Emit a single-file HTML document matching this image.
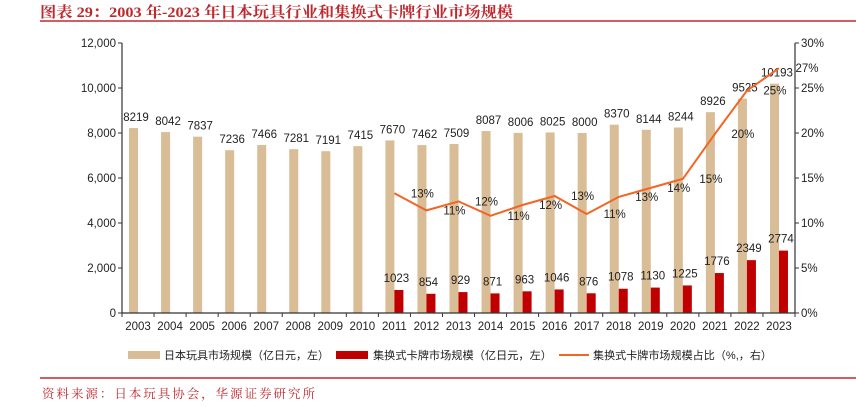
<!DOCTYPE html>
<html><head><meta charset="utf-8"><style>
body{margin:0;background:#fff;}
svg{display:block;font-family:"Liberation Sans","Noto Sans CJK SC",sans-serif;}
</style></head><body>
<svg id="chart" width="856" height="407" viewBox="0 0 856 407" xmlns="http://www.w3.org/2000/svg">
<text x="40" y="17" font-size="15" font-weight="bold" fill="#c0282e" textLength="473" lengthAdjust="spacingAndGlyphs" font-family="'Liberation Serif','Noto Serif CJK SC',serif">图表 29：2003 年-2023 年日本玩具行业和集换式卡牌行业市场规模</text>
<line x1="40" y1="21" x2="856" y2="21" stroke="#c0282e" stroke-width="1.5"/>
<g id="plot"></g>
<g font-size="11" fill="#222">
<rect x="128" y="351" width="32" height="8" fill="#d9bd96"/>
<text x="164" y="359" textLength="165" lengthAdjust="spacingAndGlyphs">日本玩具市场规模（亿日元，左）</text>
<rect x="336" y="351" width="32" height="8" fill="#c00000"/>
<text x="373" y="359" textLength="179" lengthAdjust="spacingAndGlyphs">集换式卡牌市场规模（亿日元，左）</text>
<line x1="559" y1="355" x2="589" y2="355" stroke="#f26522" stroke-width="2"/>
<text x="593" y="359" textLength="179" lengthAdjust="spacingAndGlyphs">集换式卡牌市场规模占比（%,，右）</text>
</g>
<line x1="40" y1="378" x2="856" y2="378" stroke="#c0282e" stroke-width="1.5"/>
<text x="42" y="398" font-size="12.5" fill="#c0282e" textLength="273" lengthAdjust="spacing" font-family="'Liberation Serif','Noto Serif CJK SC',serif">资料来源：日本玩具协会，华源证券研究所</text>
</svg>
<script>
const years = ['2003','2004','2005','2006','2007','2008','2009','2010','2011','2012','2013','2014','2015','2016','2017','2018','2019','2020','2021','2022','2023'];
const toyMarket = [8219,8042,7837,7236,7466,7281,7191,7415,7670,7462,7509,8087,8006,8025,8000,8370,8144,8244,8926,9525,10193];
const cardMarket = [null,null,null,null,null,null,null,null,1023,854,929,871,963,1046,876,1078,1130,1225,1776,2349,2774];
const cardShare = [null,null,null,null,null,null,null,null,13.3,11.4,12.4,10.8,12.0,13.0,11.0,12.9,13.9,14.9,19.9,24.7,27.2];
const shareLabels = [null,null,null,null,null,null,null,null,'13%','11%','12%','11%','12%','13%','11%','13%','14%','15%','20%','25%','27%'];
const leftTicks = [0,2000,4000,6000,8000,10000,12000];
const rightTicks = [0,5,10,15,20,25,30];

const NS='http://www.w3.org/2000/svg';
const g=document.getElementById('plot');
const X0=122,X1=795,Y0=313,Y1=43;
const bw=(X1-X0)/years.length;
const xc=i=>X0+(i+0.5)*bw;
const yL=v=>Y0-(v/12000)*(Y0-Y1);
const yR=v=>Y0-(v/30)*(Y0-Y1);
function mk(tag,attrs,txt){const e=document.createElementNS(NS,tag);for(const k in attrs)e.setAttribute(k,attrs[k]);if(txt!==undefined)e.textContent=txt;g.appendChild(e);return e;}

years.forEach((y,i)=>{
  const c=xc(i);
  const b=mk('rect',{x:c-9,y:yL(toyMarket[i]),width:9,height:Y0-yL(toyMarket[i]),fill:'#d9bd96'});
  
  
  const t=mk('text',{x:c-2,y:yL(toyMarket[i])-7,'font-size':11.5,'text-anchor':'middle',fill:'#222'},String(toyMarket[i]));
  
  
  if(cardMarket[i]!=null){
    const r=mk('rect',{x:c,y:yL(cardMarket[i]),width:9,height:Y0-yL(cardMarket[i]),fill:'#c00000'});
    
    
    const rt=mk('text',{x:c+2,y:yL(cardMarket[i])-8,'font-size':11.5,'text-anchor':'middle',fill:'#222'},String(cardMarket[i]));
    
    
  }
});
let pts=[];
cardShare.forEach((v,i)=>{if(v!=null)pts.push(xc(i)+','+yR(v));});
const pl=mk('polyline',{points:pts.join(' '),fill:'none',stroke:'#f26522','stroke-width':2});


cardShare.forEach((v,i)=>{if(v==null)return;
  const t=mk('text',{x:xc(i)+28,y:yR(v)+4,'font-size':11.5,'text-anchor':'middle',fill:'#222'},shareLabels[i]);
  
  
});
const la=mk('line',{x1:X0,y1:Y1,x2:X0,y2:Y0,stroke:'#333','stroke-width':1.2});


const ra=mk('line',{x1:X1,y1:Y1,x2:X1,y2:Y0,stroke:'#333','stroke-width':1.2});


const xa=mk('line',{x1:X0,y1:Y0,x2:X1,y2:Y0,stroke:'#333','stroke-width':1.2});


leftTicks.forEach(v=>{
  mk('line',{x1:X0-4,y1:yL(v),x2:X0,y2:yL(v),stroke:'#333'});
  const t=mk('text',{x:X0-6,y:yL(v)+4,'font-size':11.5,'text-anchor':'end',fill:'#222'},v.toLocaleString('en-US'));
  
  
});
rightTicks.forEach(v=>{
  mk('line',{x1:X1,y1:yR(v),x2:X1+4,y2:yR(v),stroke:'#333'});
  const t=mk('text',{x:X1+6,y:yR(v)+4,'font-size':11.5,fill:'#222'},v+'%');
  
  
});
years.forEach((y,i)=>{
  mk('line',{x1:X0+i*bw,y1:Y0,x2:X0+i*bw,y2:Y0+4,stroke:'#333'});
  const t=mk('text',{x:xc(i),y:Y0+17,'font-size':11.5,'text-anchor':'middle',fill:'#222'},y);
  
  
});
mk('line',{x1:X1,y1:Y0,x2:X1,y2:Y0+4,stroke:'#333'});
</script>
</body></html>
